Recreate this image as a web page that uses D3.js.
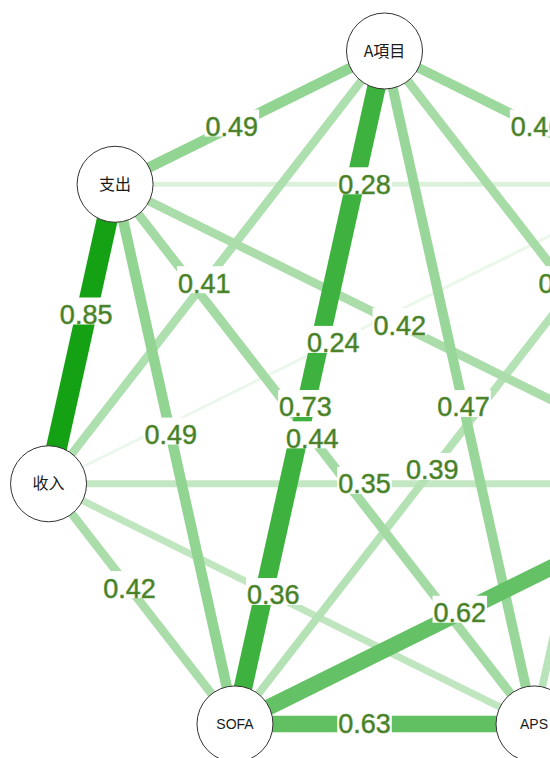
<!DOCTYPE html>
<html>
<head>
<meta charset="utf-8">
<script src="https://cdn.jsdelivr.net/npm/d3@7"></script>
<style>
  html, body { margin: 0; padding: 0; background: #ffffff; overflow: hidden; }
  svg { display: block; }
</style>
</head>
<body>
<script>
// ---- data ----
const nodeNames = ["A項目", "B項目", "C項目", "APS", "SOFA", "收入", "支出"];
const edgeFrom    = [0, 0, 0, 0, 0, 0, 1, 1, 1, 1, 1, 2, 2, 2, 2, 3, 3, 3, 4, 4, 5];
const edgeTo      = [1, 2, 3, 4, 5, 6, 2, 3, 4, 5, 6, 3, 4, 5, 6, 4, 5, 6, 5, 6, 6];
const edgeWeights = [0.46, 0.43, 0.47, 0.73, 0.41, 0.49, 0.50, 0.38, 0.39, 0.24, 0.28,
                     0.40, 0.62, 0.35, 0.42, 0.63, 0.36, 0.44, 0.42, 0.49, 0.85];

// ---- layout ----
const W = 550, H = 758;
const svg = d3.select("body").append("svg").attr("width", W).attr("height", H);
svg.append("rect").attr("width", W).attr("height", H).attr("fill", "#ffffff");

const n = nodeNames.length;
// circle layout (qgraph style), mapped to the plotting region
const x = d3.scaleLinear().domain([-1, 1]).range([39.9, 729.1]);
const y = d3.scaleLinear().domain([-1, 1]).range([759, 51]);
const nodes = nodeNames.map((name, i) => {
  const a = i * 2 * Math.PI / n;
  return { name, i, x: x(Math.sin(a)), y: y(Math.cos(a)) };
});

const edges = edgeWeights.map((w, k) => ({ w, s: nodes[edgeFrom[k]], t: nodes[edgeTo[k]] }))
  .sort((a, b) => a.w - b.w);

const widthScale = d3.scaleLinear().domain([0.24, 0.28, 0.49, 0.63, 0.85]).range([3, 5, 10.5, 16.5, 21]);
const alphaScale = d3.scaleLinear().domain([0.18, 0.85]).range([0, 0.92]).clamp(true);
const colorOf = w => d3.interpolateRgb("#ffffff", "#009900")(alphaScale(w));

svg.append("g").selectAll("line").data(edges).join("line")
  .attr("x1", d => d.s.x).attr("y1", d => d.s.y)
  .attr("x2", d => d.t.x).attr("y2", d => d.t.y)
  .attr("stroke", d => colorOf(d.w))
  .attr("stroke-width", d => widthScale(d.w));

// edge labels: near midpoint, shifted toward the later node
const fmt = d3.format(".2f");
const labelShift = 20;
const lab = svg.append("g").selectAll("g").data(edges).join("g")
  .attr("transform", d => {
    const dx = d.t.x - d.s.x, dy = d.t.y - d.s.y, L = Math.hypot(dx, dy);
    const px = (d.s.x + d.t.x) / 2 + dx / L * labelShift;
    const py = (d.s.y + d.t.y) / 2 + dy / L * labelShift;
    return `translate(${px},${py})`;
  });
lab.append("text")
  .attr("class", "elab")
  .attr("text-anchor", "middle")
  .attr("y", 9.5)
  .attr("font-family", "Liberation Sans, Arial, sans-serif")
  .attr("font-size", 27)
  .attr("fill", "#477a27")
  .attr("stroke", "#5f9a3f")
  .attr("stroke-width", 0.6)
  .text(d => fmt(d.w));
lab.each(function() {
  const g = d3.select(this);
  const bb = g.select("text").node().getBBox();
  g.insert("rect", "text")
    .attr("x", bb.x - 1).attr("width", bb.width + 2)
    .attr("y", -17).attr("height", 27)
    .attr("fill", "#ffffff");
});

// nodes
const ng = svg.append("g").selectAll("g").data(nodes).join("g")
  .attr("transform", d => `translate(${d.x},${d.y})`);
ng.append("circle").attr("r", 38).attr("fill", "#ffffff")
  .attr("stroke", "#333333").attr("stroke-width", 1);
ng.append("text")
  .attr("text-anchor", "middle")
  .attr("dy", "0.35em")
  .attr("font-family", d => /^[A-Z]+$/.test(d.name) ? "Liberation Sans, Arial, sans-serif" : "Noto Sans CJK SC, sans-serif")
  .attr("font-size", d => /^[A-Z]+$/.test(d.name) ? 14 : 16)
  .attr("fill", "#1a1a1a")
  .text(d => d.name);
</script>
</body>
</html>
